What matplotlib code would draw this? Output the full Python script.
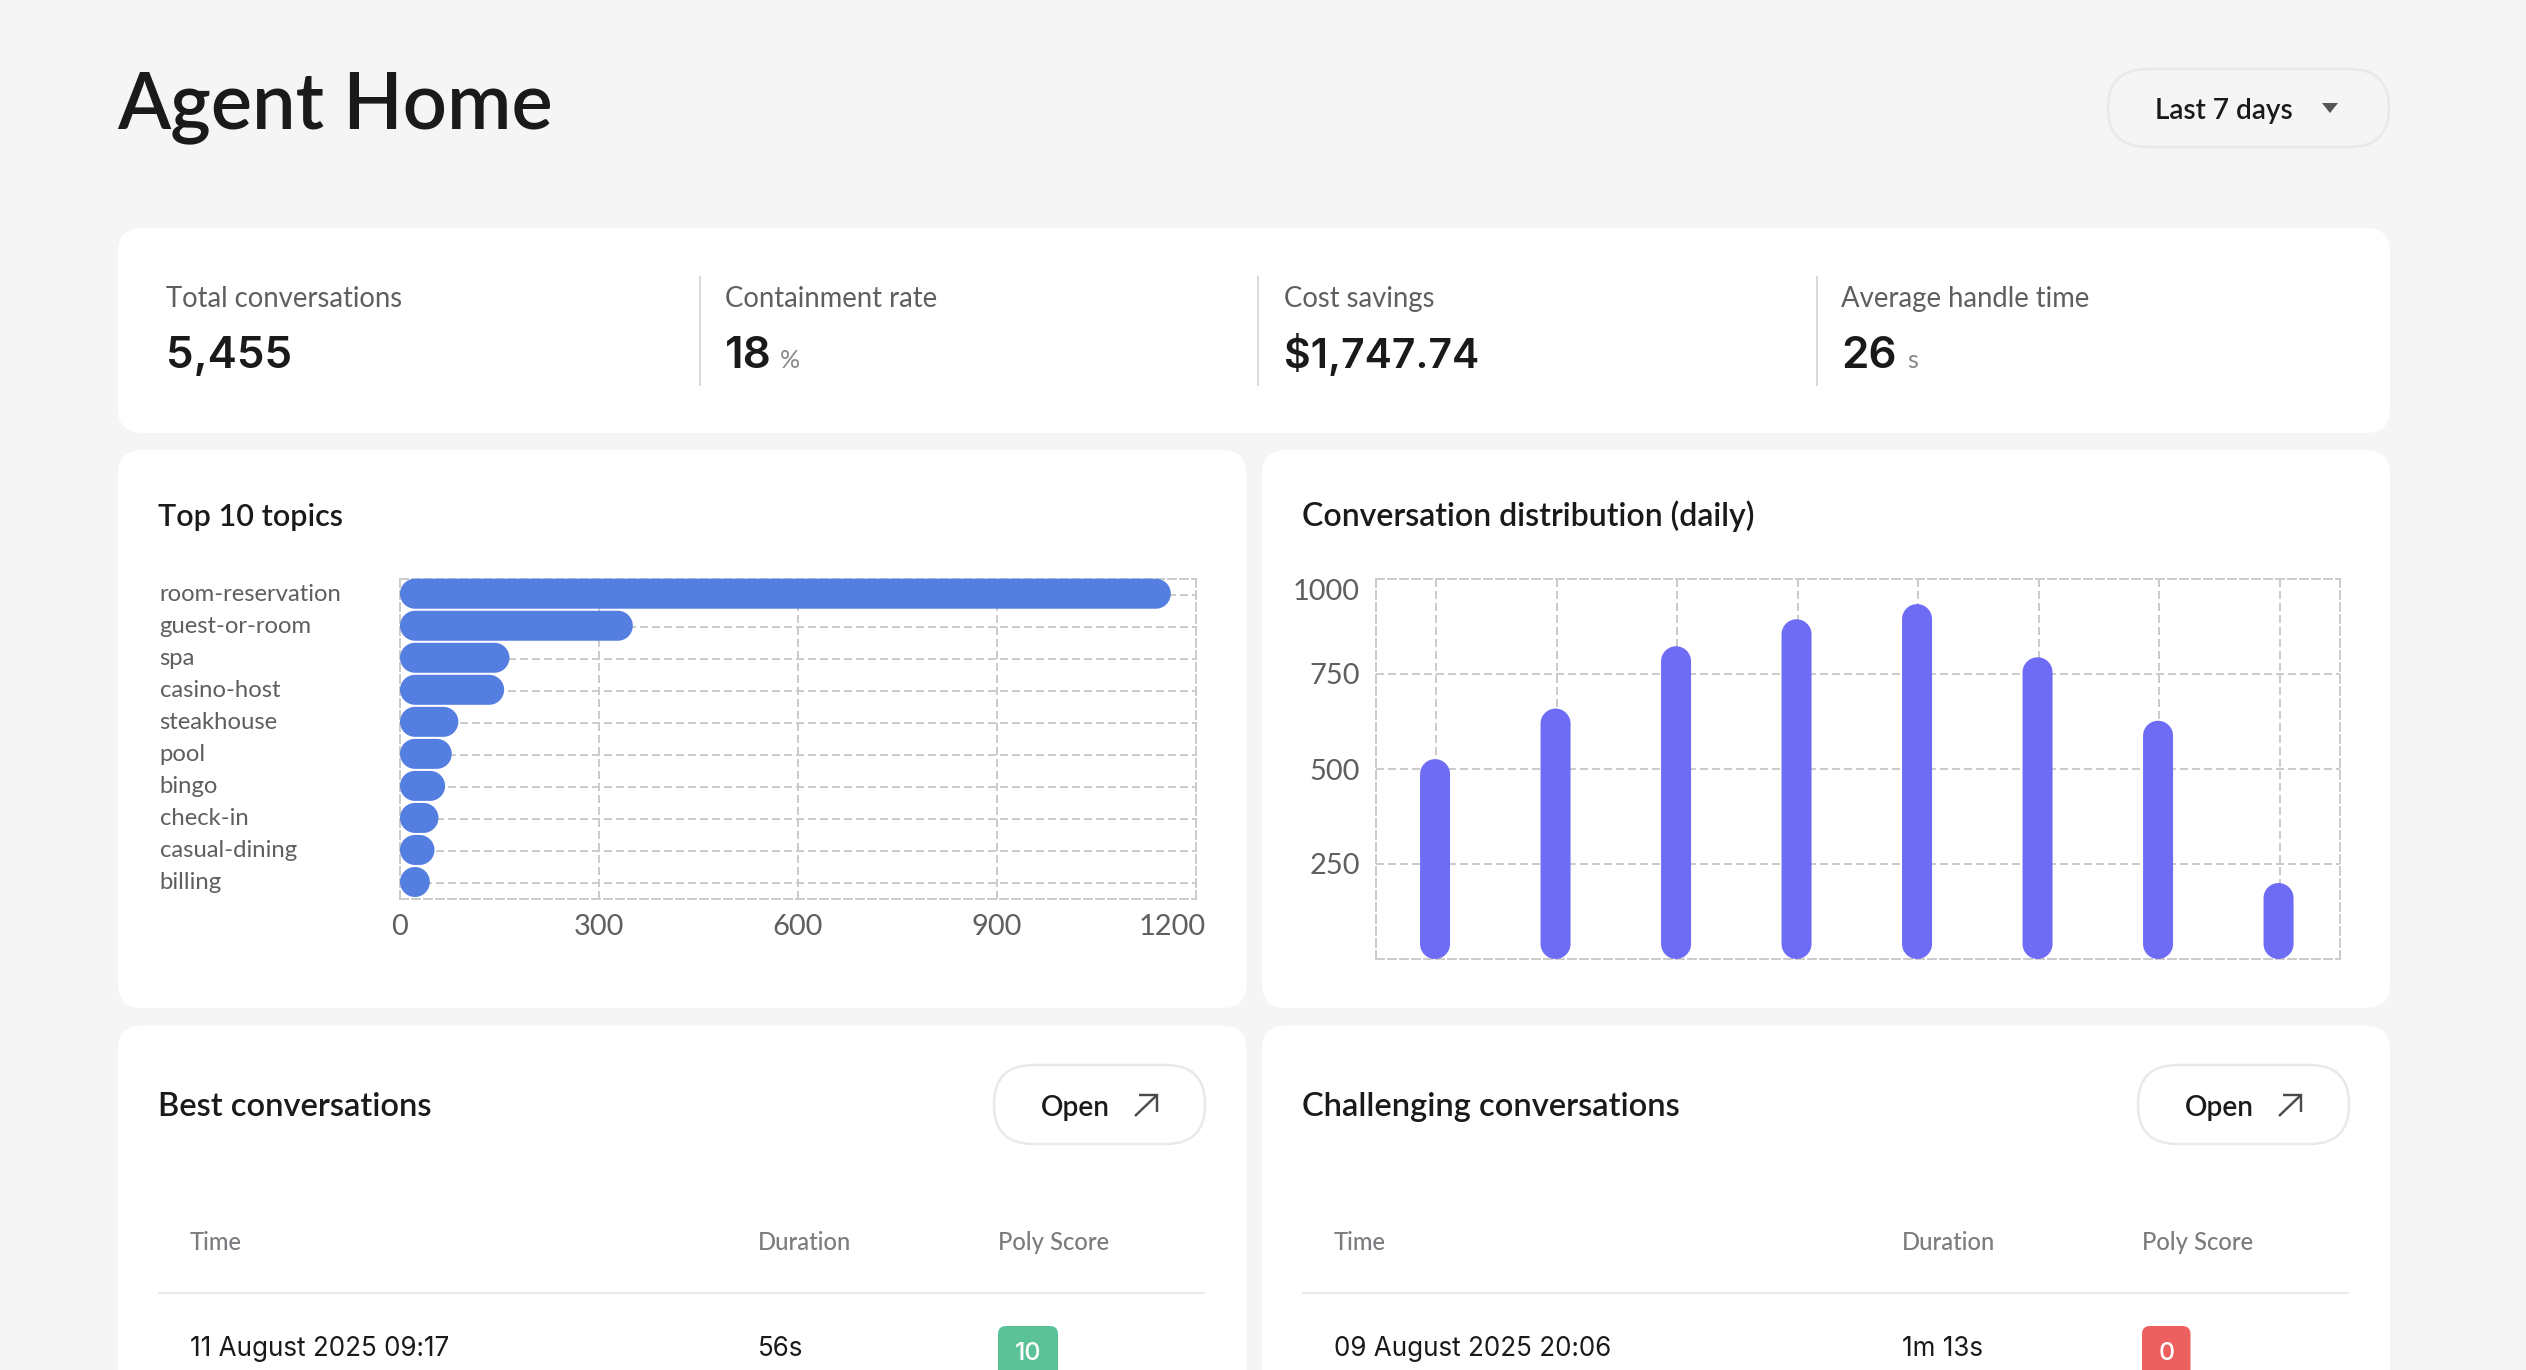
import matplotlib
matplotlib.use("Agg")
import matplotlib.pyplot as plt
from matplotlib.patches import FancyBboxPatch, PathPatch, Polygon
from matplotlib.path import Path
from matplotlib.transforms import ScaledTranslation

W, H = 2526, 1370
FONT = ["Lato", "Open Sans", "DejaVu Sans"]
NUMFONT = ["Inter", "Lato", "DejaVu Sans"]
plt.rcParams["font.family"] = FONT

# ---------- data ----------
page_title = "Agent Home"
range_label = "Last 7 days"
kpi_labels = ["Total conversations", "Containment rate", "Cost savings", "Average handle time"]
kpi_values = ["5,455", "18", "$1,747.74", "26"]
kpi_units = ["", "%", "", "s"]

topics = ["room-reservation", "guest-or-room", "spa", "casino-host", "steakhouse",
          "pool", "bingo", "check-in", "casual-dining", "billing"]
topic_counts = [1162, 351, 165, 157, 88, 78, 68, 58, 52, 45]
topic_ticks = [0, 300, 600, 900, 1200]

daily_counts = [526, 659, 823, 894, 934, 794, 627, 200]
daily_ticks = [250, 500, 750, 1000]

table_headers = ["Time", "Duration", "Poly Score"]
best_row = ["11 August 2025 09:17", "56s", "10"]
worst_row = ["09 August 2025 20:06", "1m 13s", "0"]

# ---------- colours ----------
BG = "#f5f5f5"
DARK = "#1a1a1a"
MID = "#5f5f5f"
HEAD = "#7c7c80"
LINE = "#e9e9e9"
GRID = "#cccccc"
BLUE = "#547ee0"
VIOLET = "#6e6cf5"
GREEN = "#5bc298"
RED = "#ec6060"

PT = 72 / 100  # one pixel in points
fig = plt.figure(figsize=(W / 100, H / 100), dpi=100, facecolor=BG)
bg = fig.add_axes([0, 0, 1, 1], zorder=0)
bg.set_xlim(0, W)
bg.set_ylim(H, 0)
bg.axis("off")


def card(x0, y0, x1, y1, r=24, fc="white", ec="none", lw=0):
    bg.add_patch(FancyBboxPatch((x0, y0), x1 - x0, y1 - y0,
                                boxstyle=f"round,pad=0,rounding_size={r}",
                                fc=fc, ec=ec, lw=lw * PT, clip_on=True))


def text(x, y, s, px, color=DARK, weight="normal", ha="left", va="baseline", family=None):
    return bg.text(x, y, s, fontsize=px * PT, color=color, fontweight=weight,
                   ha=ha, va=va, zorder=5, family=family or FONT)


# ---------- header ----------
text(117.5, 128, page_title, 77.5, weight="semibold")
card(2108, 69, 2389, 147, r=39, fc=BG, ec=LINE, lw=2.5)
text(2155, 119, range_label, 28, weight="semibold")
bg.add_patch(Polygon([[2322, 103], [2338, 103], [2330, 113]], closed=True, fc="#555558", ec="none"))

# ---------- KPI card ----------
card(118, 228, 2390, 433)
kpi_x = [166, 725, 1284, 1841]
divider_x = [700, 1258, 1817]
unit_gap = [0, 55, 0, 66]
value_px = [44, 44, 41, 44]
for x, lab, val, unit, gap, vpx in zip(kpi_x, kpi_labels, kpi_values, kpi_units, unit_gap, value_px):
    text(x, 306.5, lab, 27.5, color=MID)
    text(x, 368, val, vpx, weight="semibold", family=NUMFONT)
    if unit:
        text(x + gap, 368, unit, 25, color="#888888")
for x in divider_x:
    bg.plot([x, x], [276, 386], color="#d9d9d9", lw=2 * PT, solid_capstyle="butt")

# ---------- chart / table cards ----------
card(118, 450, 1246.5, 1008)
card(1262, 450, 2390, 1008)
card(118, 1025.7, 1246.5, 1420)
card(1262, 1025.7, 2390, 1420)
text(158, 525.5, "Top 10 topics", 30.5, weight="semibold")
text(1302, 525.5, "Conversation distribution (daily)", 32, weight="semibold")


def pixel_axes(x0, y0, x1, y1):
    ax = fig.add_axes([x0 / W, 1 - y1 / H, (x1 - x0) / W, (y1 - y0) / H], zorder=2)
    ax.set_facecolor("none")
    return ax


def shift(label, dx, dy):
    label.set_transform(label.get_transform() + ScaledTranslation(dx / 100, dy / 100, fig.dpi_scale_trans))


def style_grid(ax):
    dash = (0, (4, 2))
    for s in ax.spines.values():
        s.set_color(GRID)
        s.set_linewidth(2 * PT)
        s.set_linestyle(dash)
    ax.grid(True, color=GRID, lw=2 * PT, linestyle=dash)
    ax.set_axisbelow(True)
    ax.tick_params(length=0)


def round_rect_path(x0, y0, x1, y1, rx, ry):
    """Rounded rectangle given in data units with separate x and y radii."""
    k = 0.5523
    xl, xr = min(x0, x1), max(x0, x1)
    yl, yh = min(y0, y1), max(y0, y1)
    rx = min(rx, (xr - xl) / 2)
    ry = min(ry, (yh - yl) / 2)
    v = [(xl + rx, yl), (xr - rx, yl),
         (xr - rx + k * rx, yl), (xr, yl + ry - k * ry), (xr, yl + ry),
         (xr, yh - ry),
         (xr, yh - ry + k * ry), (xr - rx + k * rx, yh), (xr - rx, yh),
         (xl + rx, yh),
         (xl + rx - k * rx, yh), (xl, yh - ry + k * ry), (xl, yh - ry),
         (xl, yl + ry),
         (xl, yl + ry - k * ry), (xl + rx - k * rx, yl), (xl + rx, yl),
         (xl + rx, yl)]
    c = [Path.MOVETO, Path.LINETO, Path.CURVE4, Path.CURVE4, Path.CURVE4, Path.LINETO,
         Path.CURVE4, Path.CURVE4, Path.CURVE4, Path.LINETO, Path.CURVE4, Path.CURVE4,
         Path.CURVE4, Path.LINETO, Path.CURVE4, Path.CURVE4, Path.CURVE4, Path.CLOSEPOLY]
    return Path(v, c)


# ---------- topics chart ----------
A = (400, 578.7, 1196, 899)
ax1 = pixel_axes(*A)
ax1.set_xlim(0, 1200)
ax1.set_ylim(len(topics) - 0.5, -0.5)
style_grid(ax1)
ax1.set_xticks(topic_ticks)
ax1.set_xticklabels([str(v) for v in topic_ticks], fontsize=29 * PT, color=MID)
ax1.tick_params(axis="x", pad=(914 - 899) * PT)
ax1.set_yticks(range(len(topics)))
ax1.set_yticklabels(topics, fontsize=23.9 * PT, color=MID, ha="left")
ax1.tick_params(axis="y", pad=(400 - 159.5) * PT)
for lab in ax1.get_yticklabels():
    shift(lab, 0, 2.2)
last = ax1.get_xticklabels()[-1]
last.set_ha("right")
shift(last, 10, 0)
sx = (A[2] - A[0]) / 1200
sy = (A[3] - A[1]) / len(topics)
bars1 = ax1.barh([i - 1 / sy for i in range(len(topics))], topic_counts, height=30 / sy, color=BLUE)
for b in bars1:
    b.set_visible(False)
    ax1.add_patch(PathPatch(round_rect_path(b.get_x(), b.get_y(), b.get_x() + b.get_width(),
                                            b.get_y() + b.get_height(), 15 / sx, 15 / sy),
                            fc=BLUE, ec="none", zorder=3, clip_on=False))

# ---------- daily chart ----------
B = (1376, 579, 2340, 959)
ax2 = pixel_axes(*B)
ax2.set_xlim(-0.5, len(daily_counts) - 0.5)
ax2.set_ylim(0, 1000)
style_grid(ax2)
ax2.set_xticks(range(len(daily_counts)))
ax2.set_xticklabels([])
ax2.set_yticks(daily_ticks)
ax2.set_yticklabels([str(v) for v in daily_ticks], fontsize=29 * PT, color=MID)
ax2.tick_params(axis="y", pad=(1376 - 1360) * PT)
ax2.get_yticklabels()[-1].set_va("top")
band = (B[2] - B[0]) / len(daily_counts)
sx2 = band
sy2 = (B[3] - B[1]) / 1000
bars2 = ax2.bar([i - 1.2 / band for i in range(len(daily_counts))], daily_counts,
                width=30 / band, color=VIOLET)
for b in bars2:
    b.set_visible(False)
    ax2.add_patch(PathPatch(round_rect_path(b.get_x(), 0, b.get_x() + b.get_width(),
                                            b.get_height(), 15 / sx2, 15 / sy2),
                            fc=VIOLET, ec="none", zorder=3, clip_on=False))


# ---------- table cards ----------
def table_card(dx, title, row, badge_w, badge_color):
    text(158 + dx, 1116, title, 32.6, weight="semibold")
    x0, x1 = 994 + dx, 1205 + dx
    card(x0, 1065, x1, 1144, r=39, fc="white", ec=LINE, lw=2.5)
    text(1041 + dx, 1116, "Open", 28, weight="semibold")
    bg.plot([1135 + dx, 1157 + dx], [1116, 1095], color="#4a4a4e", lw=2.4 * PT, solid_capstyle="butt")
    bg.plot([1139 + dx, 1157 + dx, 1157 + dx], [1095, 1095, 1112], color="#4a4a4e", lw=2.4 * PT,
            solid_joinstyle="miter", solid_capstyle="butt")
    for hx, h in zip([190, 758, 998], table_headers):
        text(hx + dx, 1250, h, 23.8, color=HEAD, weight="medium")
    bg.plot([158 + dx, 1205 + dx], [1292.7, 1292.7], color=LINE, lw=2 * PT, solid_capstyle="butt")
    text(190 + dx, 1356, row[0], 26, family=NUMFONT)
    text(758 + dx, 1356, row[1], 26, family=NUMFONT)
    card(998 + dx, 1326, 998 + dx + badge_w, 1400, r=8, fc=badge_color)
    text(998 + dx + badge_w / 2, 1360, row[2], 25, color="white", weight="medium", ha="center", family=NUMFONT)


table_card(0, "Best conversations", best_row, 60, GREEN)
table_card(1144, "Challenging conversations", worst_row, 48.5, RED)

fig.savefig("out.png", dpi=100, facecolor=BG)
